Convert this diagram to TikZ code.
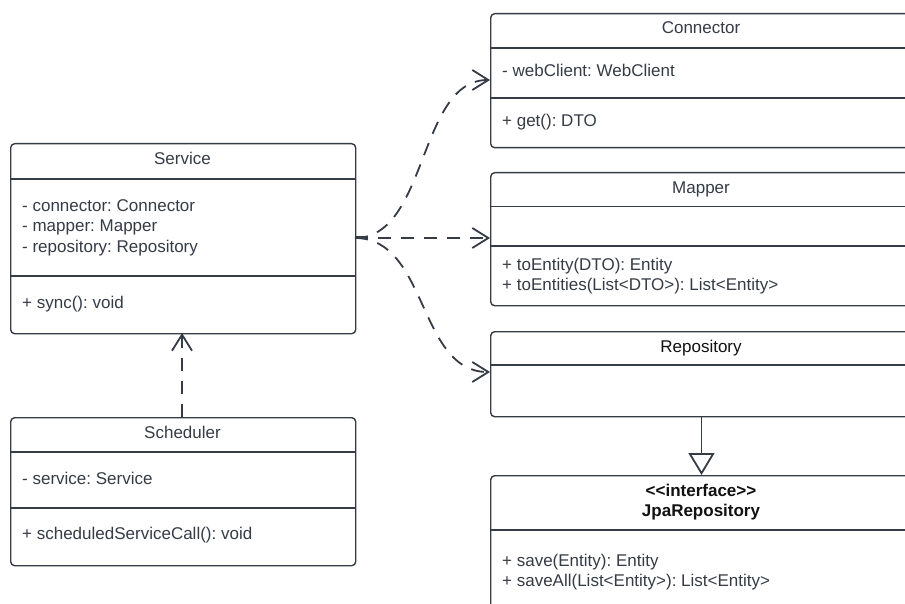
\documentclass[tikz,border=0pt]{standalone}
\usepackage{fontspec}
\setmainfont{Liberation Sans}
\usetikzlibrary{arrows.meta}
\definecolor{ink}{HTML}{353C45}
\definecolor{dark}{HTML}{111111}
\frenchspacing
\begin{document}
\begin{tikzpicture}[x=1pt,y=-1pt,
  box/.style={draw=ink, line width=1.4pt, rounded corners=4pt, fill=white, inner sep=0pt, anchor=north west},
  divl/.style={draw=ink, line width=1.4pt},
  lbl/.style={text=ink, font=\fontsize{17}{20}\selectfont, anchor=base west, inner sep=0pt},
  ttl/.style={text=ink, font=\fontsize{17}{20}\selectfont, anchor=base, inner sep=0pt},
  dep/.style={draw=ink, line width=1.8pt, dash pattern=on 13pt off 10pt,
    -{Straight Barb[length=16pt,width=20pt,line width=1.8pt]}},
  gen/.style={draw=ink, line width=1.8pt,
    -{Triangle[open,length=22pt,width=26pt,line width=1.8pt,fill=white]}},
]
\useasboundingbox (0,0) rectangle (905,604);
\clip (0,0) rectangle (905,604);

% Service
\node[box, minimum width=345pt, minimum height=190pt] (service) at (10,143) {};
\draw[divl] (10,179) -- (355,179);
\draw[divl] (10,276) -- (355,276);
\node[ttl] (serviceT) at (182.5,165) {Service};
\node[lbl] (serviceA1) at (22,212) {- connector: Connector};
\node[lbl] (serviceA2) at (22,232) {- mapper: Mapper};
\node[lbl] (serviceA3) at (22,252) {- repository: Repository};
\node[lbl] (serviceM1) at (22,308.5) {+ sync(): void};

% Scheduler
\node[box, minimum width=345pt, minimum height=148pt] (sched) at (10,417) {};
\draw[divl] (10,452) -- (355,452);
\draw[divl] (10,508) -- (355,508);
\node[ttl] (schedT) at (182.5,438) {Scheduler};
\node[lbl] (schedA1) at (22,484) {- service: Service};
\node[lbl] (schedM1) at (22,539.5) {+ scheduledServiceCall(): void};

% Connector
\node[box, minimum width=422pt, minimum height=134pt] (conn) at (490,13) {};
\draw[divl] (490,48) -- (912,48);
\draw[divl] (490,98) -- (912,98);
\node[ttl] (connT) at (701,34) {Connector};
\node[lbl] (connA1) at (502,76.5) {- webClient: WebClient};
\node[lbl] (connM1) at (502,126.5) {+ get(): DTO};

% Mapper
\node[box, minimum width=422pt, minimum height=133pt] (mapper) at (490,172) {};
\draw[divl] (490,206.5) -- (912,206.5);
\draw[divl] (490,246) -- (912,246);
\node[ttl] (mapperT) at (701,193.5) {Mapper};
\node[lbl] (mapperM1) at (502,270) {+ toEntity(DTO): Entity};
\node[lbl] (mapperM2) at (502,290) {+ toEntities(List<DTO>): List<Entity>};

% Repository
\node[box, minimum width=422pt, minimum height=85pt] (repo) at (490,331) {};
\draw[divl] (490,365) -- (912,365);
\node[ttl, text=dark] (repoT) at (701,352) {Repository};

% JpaRepository
\node[box, minimum width=422pt, minimum height=160pt] (jpa) at (490,475) {};
\draw[divl] (490,530) -- (912,530);
\node[ttl, text=dark, font=\fontsize{17}{20}\selectfont\bfseries] (jpaS) at (701,496) {<{}<interface>{}>};
\node[ttl, text=dark, font=\fontsize{17}{20}\selectfont\bfseries] (jpaT) at (701,516.5) {JpaRepository};
\node[lbl] (jpaM1) at (502,566) {+ save(Entity): Entity};
\node[lbl] (jpaM2) at (502,586) {+ saveAll(List<Entity>): List<Entity>};

% connectors
\coordinate (src) at (355,238);
\coordinate (connIn) at (490,80);
\coordinate (mapIn) at (490,238);
\coordinate (repoIn) at (490,372);
\draw[ink, line width=3pt] (src) -- ++(9,0);
\draw[dep] (src) .. controls (428,238) and (418,80) .. (connIn);
\draw[dep] (src) -- (mapIn);
\draw[dep] (src) .. controls (428,238) and (418,372) .. (repoIn);

\coordinate (schedTop) at (182,417);
\coordinate (serviceBot) at (182,333);
\draw[dep] (schedTop) -- (serviceBot);

\coordinate (repoBot) at (701.5,416);
\coordinate (jpaTop) at (701.5,475);
\draw[gen] (repoBot) -- (jpaTop);
\end{tikzpicture}
\end{document}
